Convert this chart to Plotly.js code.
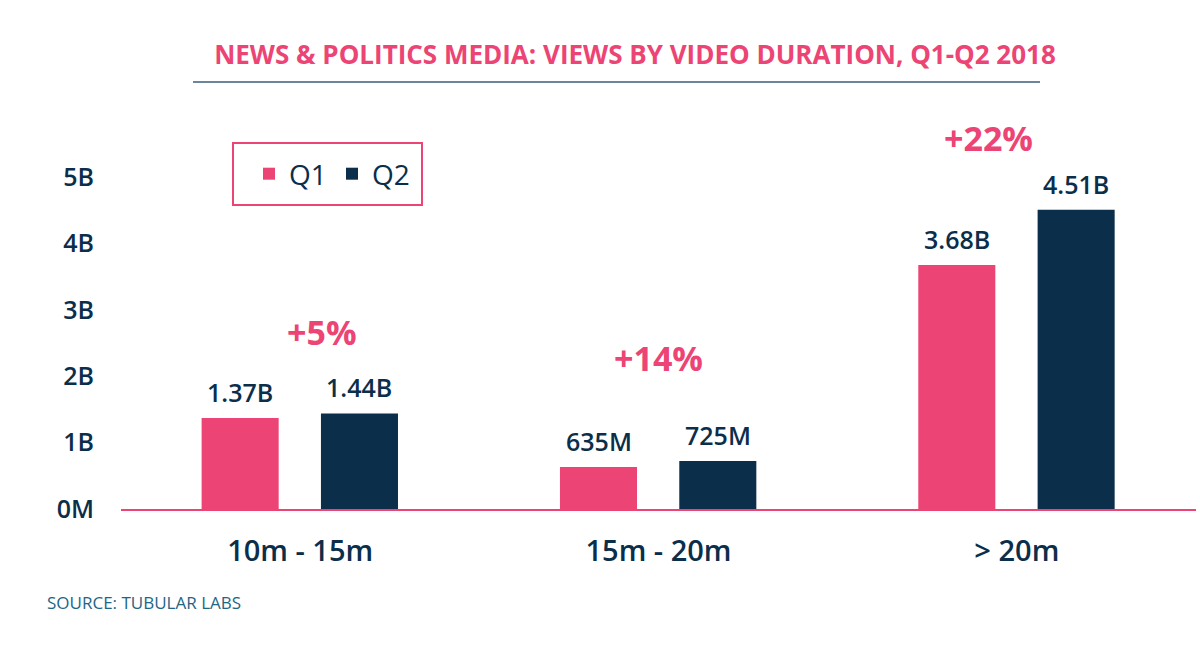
<!DOCTYPE html>
<html>
<head>
<meta charset="utf-8">
<script src="https://cdn.plot.ly/plotly-3.0.1.min.js"></script>
<style>
  html, body { margin: 0; padding: 0; background: #fff; }
  #chart { width: 1200px; height: 648px; }
</style>
</head>
<body>
<div id="chart"></div>
<script>
// durations on the x axis
const durations = ['10m - 15m', '15m - 20m', '> 20m'];
// views in billions
const q1Views = [1.37, 0.635, 3.68];
const q2Views = [1.44, 0.725, 4.51];
const q1Labels = ['1.37B', '635M', '3.68B'];
const q2Labels = ['1.44B', '725M', '4.51B'];
const growthLabels = ['+5%', '+14%', '+22%'];
const growthY = [2.67, 2.27, 5.6];
const yTickVals = [0, 1, 2, 3, 4, 5];
const yTickText = ['0M', '1B', '2B', '3B', '4B', '5B'];

const PINK = '#ec4474';
const NAVY = '#0b2e4a';
const FONT = 'Open Sans, Noto Sans, sans-serif';

// pixel helpers for the plot area (l=121, t=111, w=1075, h=398)
const px = x => (x - 121) / 1075;
const py = y => (509 - y) / 398;

const traces = [
  {
    type: 'bar', name: 'Q1', x: durations, y: q1Views,
    marker: { color: PINK }, width: 0.215, offset: -0.275,
    hoverinfo: 'none'
  },
  {
    type: 'bar', name: 'Q2', x: durations, y: q2Views,
    marker: { color: NAVY }, width: 0.215, offset: 0.058,
    hoverinfo: 'none'
  }
];

const labelFont = { family: FONT, size: 25, color: NAVY, weight: 600 };
const annotations = [];
durations.forEach((d, i) => {
  annotations.push({
    x: i - 0.167, y: q1Views[i], xref: 'x', yref: 'y', text: q1Labels[i],
    showarrow: false, yanchor: 'bottom', yshift: 7, font: labelFont
  });
  annotations.push({
    x: i + 0.165, y: q2Views[i], xref: 'x', yref: 'y', text: q2Labels[i],
    showarrow: false, yanchor: 'bottom', yshift: 7, font: labelFont
  });
});
const growthX = [0.06, 1.0, 1.92];
growthLabels.forEach((g, i) => {
  annotations.push({
    x: growthX[i], y: growthY[i], xref: 'x', yref: 'y', text: g,
    showarrow: false, font: { family: FONT, size: 34, color: PINK, weight: 700 }
  });
});
annotations.push({
  x: px(45), y: py(602), xref: 'paper', yref: 'paper', xanchor: 'left', yanchor: 'middle',
  text: 'SOURCE: TUBULAR LABS', showarrow: false,
  font: { family: FONT, size: 17, color: '#1d6686', weight: 500 }
});

const layout = {
  width: 1200, height: 648,
  margin: { l: 121, r: 4, t: 111, b: 139 },
  paper_bgcolor: '#fff', plot_bgcolor: '#fff',
  font: { family: FONT, color: NAVY },
  title: {
    text: 'NEWS &amp; POLITICS MEDIA: VIEWS BY VIDEO DURATION, Q1-Q2 2018',
    xref: 'container', x: 635 / 1200, xanchor: 'center',
    yref: 'container', y: 1 - 55 / 648, yanchor: 'middle',
    font: { family: FONT, size: 26, color: PINK, weight: 700 }
  },
  showlegend: true,
  legend: {
    orientation: 'h', x: px(249), y: py(174), xanchor: 'left', yanchor: 'middle',
    bgcolor: 'rgba(0,0,0,0)', borderwidth: 0,
    entrywidth: 38, entrywidthmode: 'pixels',
    font: { family: FONT, size: 28, color: NAVY },
    itemclick: false
  },
  xaxis: {
    type: 'category', range: [-0.5, 2.5],
    showline: true, linecolor: PINK, linewidth: 2,
    showgrid: false, zeroline: false, ticks: '',
    ticklabelstandoff: 15,
    tickfont: { family: FONT, size: 29, color: NAVY, weight: 600 },
    fixedrange: true
  },
  yaxis: {
    range: [0, 6], tickvals: yTickVals, ticktext: yTickText,
    showgrid: false, zeroline: false, showline: false, ticks: '',
    ticklabelstandoff: 26,
    tickfont: { family: FONT, size: 25, color: NAVY, weight: 600 },
    fixedrange: true
  },
  shapes: [
    {
      type: 'line', xref: 'paper', yref: 'paper',
      x0: px(193), x1: px(1040), y0: py(82), y1: py(82),
      line: { color: '#6b8599', width: 2 }
    },
    {
      type: 'rect', xref: 'paper', yref: 'paper',
      x0: px(233), x1: px(422), y0: py(205), y1: py(143),
      line: { color: PINK, width: 2 }, fillcolor: 'rgba(0,0,0,0)'
    }
  ],
  annotations: annotations
};

Plotly.newPlot('chart', traces, layout, { displayModeBar: false, staticPlot: true });
</script>
</body>
</html>
